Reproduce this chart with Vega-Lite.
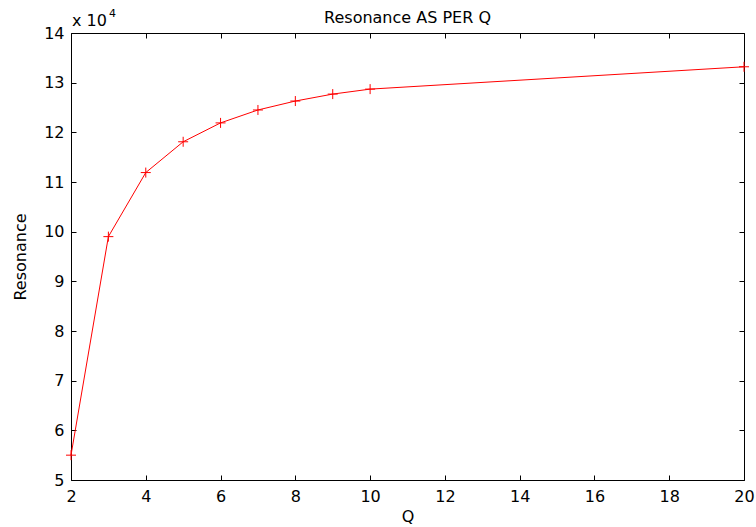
{
  "$schema": "https://vega.github.io/schema/vega-lite/v6.json",
  "width": 673,
  "height": 447,
  "autosize": "none",
  "padding": {"left": 71, "top": 33, "right": 12, "bottom": 47},
  "background": "white",
  "config": {
    "font": "DejaVu Sans",
    "view": {"stroke": "black", "strokeWidth": 1},
    "axis": {
      "grid": false,
      "domain": false,
      "tickColor": "black",
      "tickSize": -5,
      "tickWidth": 1,
      "labelColor": "black",
      "labelFontSize": 16,
      "labelFont": "DejaVu Sans",
      "titleFont": "DejaVu Sans",
      "titleFontSize": 16,
      "titleFontWeight": "normal",
      "titleColor": "black"
    }
  },
  "title": {
    "text": "Resonance AS PER Q",
    "fontSize": 16,
    "fontWeight": "normal",
    "font": "DejaVu Sans",
    "color": "black",
    "anchor": "middle",
    "frame": "group",
    "baseline": "alphabetic",
    "offset": -31
  },
  "datasets": {
    "res": [
      {"Q": 2, "R": 55000},
      {"Q": 3, "R": 99000},
      {"Q": 4, "R": 111900},
      {"Q": 5, "R": 118100},
      {"Q": 6, "R": 121900},
      {"Q": 7, "R": 124500},
      {"Q": 8, "R": 126300},
      {"Q": 9, "R": 127700},
      {"Q": 10, "R": 128700},
      {"Q": 20, "R": 133200}
    ],
    "exp": [{"Q": 2, "R": 140000, "base": "x 10", "sup": "4"}]
  },
  "resolve": {"axis": {"x": "independent", "y": "independent"}},
  "layer": [
    {
      "data": {"name": "res"},
      "mark": {"type": "line", "color": "#ff0000", "strokeWidth": 1, "clip": false},
      "encoding": {
        "x": {
          "field": "Q", "type": "quantitative",
          "scale": {"domain": [2, 20], "nice": false, "zero": false},
          "axis": {"orient": "bottom", "title": "Q", "values": [2, 4, 6, 8, 10, 12, 14, 16, 18, 20], "labelPadding": 13, "titlePadding": 4, "labelFlush": false}
        },
        "y": {
          "field": "R", "type": "quantitative",
          "scale": {"domain": [50000, 140000], "nice": false, "zero": false},
          "axis": {"orient": "left", "title": "Resonance", "values": [50000, 60000, 70000, 80000, 90000, 100000, 110000, 120000, 130000, 140000], "labelExpr": "datum.value / 10000", "labelPadding": 12, "titlePadding": 15}
        }
      }
    },
    {
      "data": {"name": "res"},
      "mark": {"type": "point", "shape": "M-1,0H1M0,-1V1", "filled": false, "color": "#ff0000", "strokeWidth": 1, "size": 100, "opacity": 1, "clip": false},
      "encoding": {
        "x": {
          "field": "Q", "type": "quantitative",
          "axis": {"orient": "top", "title": null, "labels": false, "values": [2, 4, 6, 8, 10, 12, 14, 16, 18, 20]}
        },
        "y": {
          "field": "R", "type": "quantitative",
          "axis": {"orient": "right", "title": null, "labels": false, "values": [50000, 60000, 70000, 80000, 90000, 100000, 110000, 120000, 130000, 140000]}
        }
      }
    },
    {
      "data": {"name": "exp"},
      "mark": {"type": "text", "align": "left", "baseline": "alphabetic", "dx": 1, "dy": -7, "fontSize": 16, "font": "DejaVu Sans", "color": "black"},
      "encoding": {
        "x": {"field": "Q", "type": "quantitative", "axis": null},
        "y": {"field": "R", "type": "quantitative", "axis": null},
        "text": {"field": "base"}
      }
    },
    {
      "data": {"name": "exp"},
      "mark": {"type": "text", "align": "left", "baseline": "alphabetic", "dx": 38, "dy": -16, "fontSize": 11, "font": "DejaVu Sans", "color": "black"},
      "encoding": {
        "x": {"field": "Q", "type": "quantitative", "axis": null},
        "y": {"field": "R", "type": "quantitative", "axis": null},
        "text": {"field": "sup"}
      }
    }
  ]
}
